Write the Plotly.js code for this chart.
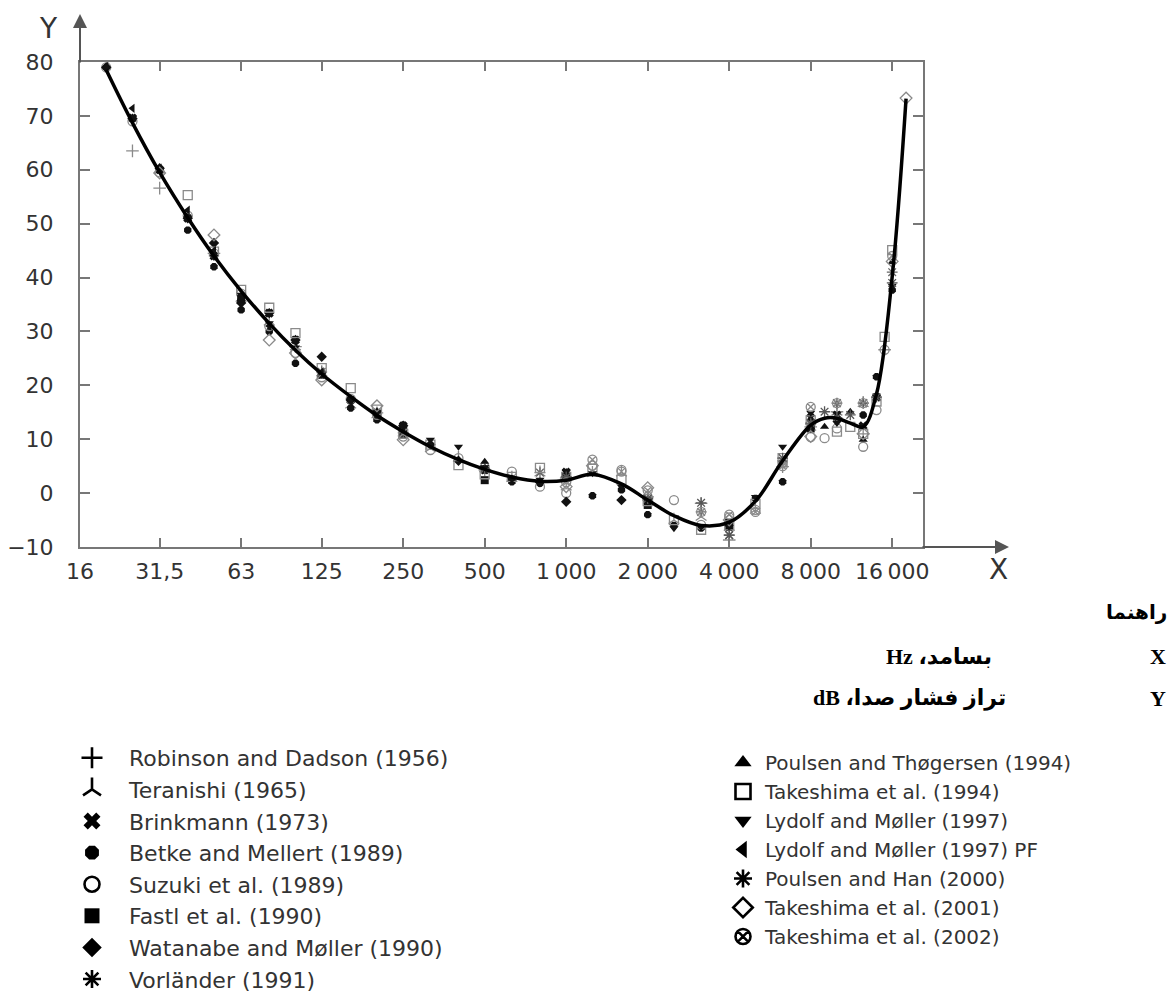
<!DOCTYPE html>
<html><head><meta charset="utf-8">
<script src="https://cdn.plot.ly/plotly-3.0.1.min.js"></script>
<style>html,body{margin:0;padding:0;background:#fff}</style>
</head><body><div id="chart" style="width:1171px;height:997px"></div>
<script>
// ---------- data ----------
const tickVals = [16,31.5,63,125,250,500,1000,2000,4000,8000,16000];
const tickText = ['16','31,5','63','125','250','500','1\u2009000','2\u2009000','4\u2009000','8\u2009000','16\u2009000'];

const curveFreq  = [20,25,31.5,40,50,63,80,100,125,160,200,250,315,400,500,630,800,1000,1250,1600,2000,2500,3150,4000,5000,6300,8000,9000,10000,11200,12500,14000,16000,18000];
const curveLevel = [78.5,68.7,59.5,51.1,44.0,37.5,31.5,26.5,22.1,17.9,14.4,11.4,8.6,6.2,4.4,3.0,2.2,2.4,3.5,1.7,-1.3,-4.2,-6.0,-5.4,-1.5,6.0,12.6,13.9,13.9,13.0,12.3,18.4,40.2,73.2];

const robinsonFreq  = [25,31.5,50,100,200,500,1000,2000,3150,4000,6300,8000,10000,12500,15000];
const robinsonLevel = [63.5,56.6,44.5,27.2,14.9,4.3,2.8,-0.7,-1.9,-8.7,4.9,12.3,15.1,11.0,26.6];

const teranishiFreq  = [63,80,100,125,160,200,250,315,400,500,630,800,1000,1250,1600,2000,2500,3150,4000,5000,6300,8000,10000,12500];
const teranishiLevel = [36.2,31.8,27.2,22.4,16.4,14.6,11.2,8.3,6.5,4.6,2.8,3.8,1.2,3.7,3.8,-0.7,-5.0,-4.4,-6.3,-3.1,5.5,12.3,15.1,16.7];

const brinkmannFreq  = [25,31.5,40,50,63,80,100,125,160,200,250,500,1000,2000,4000,8000,10000,12500,14000];
const brinkmannLevel = [69.6,60.0,51.0,44.0,36.2,33.4,28.4,22.0,17.3,14.9,12.5,4.3,3.9,-1.5,-6.3,14.0,14.5,12.5,17.8];

const betkeFreq  = [20,31.5,40,50,63,80,100,125,160,200,250,500,630,800,1000,1250,1600,2000,2500,3150,4000,5000,6300,8000,10000,12500,14000,16000];
const betkeLevel = [79.0,60.0,48.8,42.0,34.0,30.0,24.1,22.0,15.8,13.6,12.6,4.3,2.1,1.8,2.8,-0.5,0.6,-4.0,-6.0,-6.5,-6.3,-1.0,2.1,12.3,13.5,14.5,21.6,37.7];

const suzukiFreq  = [20,25,31.5,40,50,63,80,100,125,160,200,250,315,400,500,630,800,1000,1250,1600,2000,2500,3150,4000,5000,6300,8000,9000,10000,12500,14000,15000];
const suzukiLevel = [79,69,59.5,51.5,44.5,37,31,26,21.5,17.5,14.5,10.5,8,6.5,4.8,4,1.2,0,5.1,4.3,-0.7,-1.3,-5.9,-4.5,-3.1,5.5,10.4,10.2,12.0,8.6,15.4,26.6];

const fastlFreq  = [63,125,250,500,1000,2000,4000,8000];
const fastlLevel = [36.0,22.0,11.0,2.4,2.8,-2.2,-5.5,12.0];

const watanabeFreq  = [20,25,31.5,40,50,63,80,100,125,160,200,250,315,400,500,630,800,1000,1600];
const watanabeLevel = [79,69.5,60.3,51,46.4,35.3,33.4,28.4,25.3,17.3,14.9,12.5,9.0,6.0,4.5,2.5,2.0,-1.6,-1.3];

const vorlanderFreq  = [125,250,500,800,1000,2000,3150,4000,6300,8000,10000,12500,16000];
const vorlanderLevel = [22.5,11.2,4.5,3.8,3.0,-1.0,-3.5,-7.8,6.0,12.8,14.0,16.7,41.0];

const poulsenThFreq  = [500,1000,1250,2000,4000,8000,9000,11200,12500,14000,16000];
const poulsenThLevel = [5.8,3.9,3.5,-1.0,-6.0,12.3,12.3,15.1,9.9,18.0,42.9];

const takeshima94Freq  = [40,50,63,80,100,125,160,200,250,315,400,500,630,800,1000,1250,1600,2000,2500,3150,4000,5000,6300,8000,10000,11200,12500,14000,15000,16000];
const takeshima94Level = [55.3,44.8,37.7,34.4,29.7,23.2,19.5,15.5,11.0,9.0,5.2,3.5,3.0,4.7,3.0,4.5,2.5,-1.5,-5.0,-6.8,-6.0,-2.0,6.5,13.5,11.4,12.3,11.0,17.0,29.0,45.1];

const lydolfFreq  = [20,25,31.5,40,50,63,80,100,125,160,200,250,315,400,500,630,800,1000,1250,1600,2000,2500,3150,4000,5000,6300,8000,10000,12500,14000,16000];
const lydolfLevel = [78.8,69.6,59.8,51,43.8,36.8,31.5,27,22,17.3,14.9,12.3,9.9,8.6,4.8,2.5,2.5,3.9,3.7,1.2,-1.5,-6.5,-6.3,-6.3,-0.7,8.6,14.9,13,12.5,17.8,38.5];

const lydolfPfFreq  = [20,25,31.5,40,50,63,80,100,125,160,200,250];
const lydolfPfLevel = [79.2,71.4,60.3,52.5,45,36,31,28,22.5,17,14.5,11.5];

const poulsenHanFreq  = [1000,2000,3150,4000,6300,8000,9000,10000,11200,12500,14000,16000];
const poulsenHanLevel = [3.0,-1.0,-1.8,-7.8,6.5,13,15.1,16.7,14.5,16.7,17.8,39];

const takeshima01Freq  = [31.5,50,80,100,125,200,250,1000,1250,2000,4000,8000,12500,16000,18000];
const takeshima01Level = [59.4,47.9,28.4,26,21,16.2,9.9,1.2,5.1,1,-5,10.5,11,43,73.3];

const takeshima02Freq  = [1000,1250,1600,2000,3150,4000,5000,6300,8000,10000,12500,16000];
const takeshima02Level = [2.0,6.2,4.0,0.5,-3.5,-4.0,-3.5,5.0,16.0,16.7,16.7,44];

const studyNames = [
  'Robinson and Dadson (1956)','Teranishi (1965)','Brinkmann (1973)','Betke and Mellert (1989)',
  'Suzuki et al. (1989)','Fastl et al. (1990)','Watanabe and Møller (1990)','Vorländer (1991)',
  'Poulsen and Thøgersen (1994)','Takeshima et al. (1994)','Lydolf and Møller (1997)','Lydolf and Møller (1997) PF',
  'Poulsen and Han (2000)','Takeshima et al. (2001)','Takeshima et al. (2002)'
];
const studyFreqs  = [robinsonFreq,teranishiFreq,brinkmannFreq,betkeFreq,suzukiFreq,fastlFreq,watanabeFreq,vorlanderFreq,poulsenThFreq,takeshima94Freq,lydolfFreq,lydolfPfFreq,poulsenHanFreq,takeshima01Freq,takeshima02Freq];
const studyLevels = [robinsonLevel,teranishiLevel,brinkmannLevel,betkeLevel,suzukiLevel,fastlLevel,watanabeLevel,vorlanderLevel,poulsenThLevel,takeshima94Level,lydolfLevel,lydolfPfLevel,poulsenHanLevel,takeshima01Level,takeshima02Level];

// ---------- styles ----------
const symbols = ['cross-thin-open','y-up-open','x','octagon','circle-open','square','diamond','asterisk-open',
                 'triangle-up','square-open','triangle-down','triangle-left','asterisk-open','diamond-open','circle-x-open'];
const isLine  = [true,true,false,false,true,false,false,true,false,true,false,false,true,true,true];
const plotCol = ['#8a8a8a','#8a8a8a','#111','#111','#8a8a8a','#111','#111','#666','#111','#8a8a8a','#111','#111','#555','#8a8a8a','#8a8a8a'];

const L=80,R=923,T=62,B=547;
const pxx = x => (x-L)/(R-L);
const pyy = y => (B-y)/(B-T);

const traces = [];
studyNames.forEach((nm,i)=>{
  const open = isLine[i];
  traces.push({
    type:'scatter', mode:'markers', x:studyFreqs[i], y:studyLevels[i], name:nm, showlegend:false,
    marker:{symbol:symbols[i], size: open?9:8, color:plotCol[i],
            line:{width: open?1.3:0, color:plotCol[i]}},
    hoverinfo:'name+x+y'
  });
});
// smooth mean threshold curve
traces.push({type:'scatter', mode:'lines', x:curveFreq, y:curveLevel, showlegend:false,
  line:{color:'#000', width:3.5, shape:'spline', smoothing:1}, hoverinfo:'x+y'});
// legend entries
studyNames.forEach((nm,i)=>{
  const open = isLine[i];
  traces.push({
    type:'scatter', mode:'markers', x:[null], y:[null], name:nm, showlegend:true,
    legend: i<8 ? 'legend' : 'legend2',
    marker:{symbol:symbols[i], size:15, color:'#000', line:{width: open?2.6:0, color:'#000'}}
  });
});

const axFont = {family:'DejaVu Sans, Arial', size:22, color:'#333'};
const fa = {family:'Liberation Serif, DejaVu Sans', size:22, color:'#000'};
function ann(x, y, text, font, xanchor){
  return {xref:'paper', yref:'paper', x:pxx(x), y:pyy(y), text:text, showarrow:false,
          font:font, xanchor:xanchor||'center', yanchor:'middle'};
}

const layout = {
  width:1171, height:997,
  margin:{l:L, r:1171-R, t:T, b:997-B, autoexpand:false},
  paper_bgcolor:'#fff', plot_bgcolor:'#fff',
  xaxis:{type:'log', range:[Math.log10(16), Math.log10(20790)], tickvals:tickVals, ticktext:tickText,
    ticks:'inside', ticklen:9, tickwidth:2, tickcolor:'#777', showline:true, linecolor:'#777', linewidth:2,
    mirror:'ticks', showgrid:false, zeroline:false, tickfont:axFont, ticklabelstandoff:4},
  yaxis:{range:[-10,80], dtick:10, tick0:0,
    ticks:'inside', ticklen:10, tickwidth:2, tickcolor:'#777', showline:true, linecolor:'#777', linewidth:2,
    mirror:'ticks', showgrid:false, zeroline:false, tickfont:axFont, ticklabelstandoff:20},
  legend:{x:pxx(55), xanchor:'left', y:pyy(737), yanchor:'top', itemwidth:64, traceorder:'normal',
    bgcolor:'rgba(0,0,0,0)', font:{family:'DejaVu Sans', size:22, color:'#333'}, itemclick:false},
  legend2:{x:pxx(721), xanchor:'left', y:pyy(743), yanchor:'top', itemwidth:34, traceorder:'normal',
    bgcolor:'rgba(0,0,0,0)', font:{family:'DejaVu Sans', size:20, color:'#333'}, itemclick:false},
  annotations:[
    {xref:'paper',yref:'paper',x:pxx(80),y:pyy(14),ax:0,ay:50,text:'',showarrow:true,arrowhead:2,arrowsize:1.4,arrowwidth:2,arrowcolor:'#555'},
    {xref:'paper',yref:'paper',x:pxx(1009),y:pyy(547),ax:-88,ay:0,text:'',showarrow:true,arrowhead:2,arrowsize:1.4,arrowwidth:2,arrowcolor:'#555'},
    ann(48, 28, 'Y', {family:'DejaVu Sans',size:28,color:'#333'}),
    ann(999, 569, 'X', {family:'DejaVu Sans',size:28,color:'#333'}),
    ann(1169, 612, '<b>راهنما</b>', {family:'Liberation Serif, DejaVu Sans',size:20,color:'#000'}, 'right'),
    ann(1158, 656, '<b>X</b>', fa),
    ann(994, 656, '<b>Hz ،بسامد</b>', fa, 'right'),
    ann(1158, 698, '<b>Y</b>', fa),
    ann(1008, 698, '<b>dB ،تراز فشار صدا</b>', fa, 'right')
  ],
  showlegend:true, hovermode:'closest'
};

Plotly.newPlot('chart', traces, layout, {displayModeBar:false});
</script></body></html>
